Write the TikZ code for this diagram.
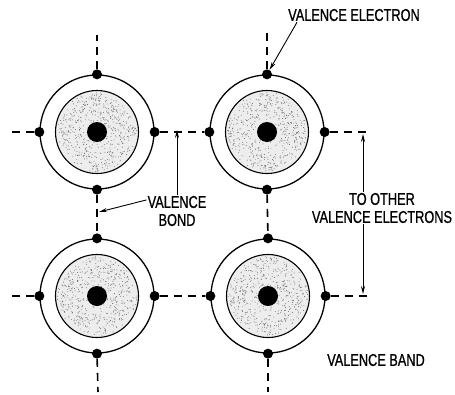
\documentclass[tikz,border=0pt]{standalone}
\usepackage{fontspec}
\setmainfont{Liberation Sans}[FakeStretch=0.75, FakeBold=0.9]
\usepackage{tikz}
\usetikzlibrary{arrows.meta, positioning, calc}

\begin{document}
\begin{tikzpicture}[
    x=1pt, y=-1pt,
    orbit/.style={circle, draw, line width=1.3pt, minimum size=114pt, inner sep=0pt},
    core/.style={circle, draw, line width=1.1pt, fill=black!7, minimum size=83pt, inner sep=0pt},
    nucleus/.style={circle, fill=black, minimum size=20pt, inner sep=0pt},
    electron/.style={circle, fill=black, minimum size=10pt, inner sep=0pt},
    bond/.style={line width=1.6pt, dash pattern=on 8pt off 6pt},
    ptr/.style={line width=0.9pt, -{Stealth[length=8pt, width=4pt]}},
    lbl/.style={font=\fontsize{17}{18}\selectfont, align=center, inner sep=1pt},
]
    \useasboundingbox (0,0) rectangle (455,394);
    \pgfmathsetseed{4711}

    % four atoms of the lattice
    \foreach \name/\x/\y in {a/97/132, b/267/132, c/97/296, d/268/296} {
        \node[core] (\name) at (\x,\y) {};
        % stippled core
        \foreach \i in {1,...,550}
            \fill[black!60] ([shift={(\x,\y)}] {360*rnd}:{40*sqrt(rnd)}) circle (0.45pt);
        \node[orbit] (\name o) at (\x,\y) {};
        \node[nucleus] at (\x,\y) {};
        \node[electron] (\name n) at (\name o.north) {};
        \node[electron] (\name s) at (\name o.south) {};
        \node[electron] (\name e) at (\name o.east) {};
        \node[electron] (\name w) at (\name o.west) {};
    }

    % free ends of the outer bonds
    \coordinate (an0) at (97,35);
    \coordinate (aw0) at (12,132);
    \coordinate (bn0) at (267,31);
    \coordinate (be0) at (370,132);
    \coordinate (cw0) at (9,296);
    \coordinate (cs0) at (98,392);
    \coordinate (de0) at (369,296);
    \coordinate (ds0) at (268,392);

    % valence bonds
    \draw[bond] (ae) -- (bw);
    \draw[bond] (ce) -- (dw);
    \draw[bond] (as) -- (cn);
    \draw[bond] (bs) -- (dn);
    \draw[bond] (an) -- (an0);
    \draw[bond] (aw) -- (aw0);
    \draw[bond] (bn) -- (bn0);
    \draw[bond] (be) -- (be0);
    \draw[bond] (cw) -- (cw0);
    \draw[bond] (cs) -- (cs0);
    \draw[bond] (de) -- (de0);
    \draw[bond] (ds) -- (ds0);

    % labels
    \node[lbl] (velab) at (354,15) {VALENCE ELECTRON};
    \node[lbl] (bondlab) at (177,211) {VALENCE\\BOND};
    \node[lbl] (otherlab) at (382,208) {TO OTHER\\VALENCE ELECTRONS};
    \node[lbl] (bandlab) at (376,360) {VALENCE BAND};

    \coordinate (bondpt) at (99,212);
    \coordinate (toup) at (363,134);
    \coordinate (todn) at (363,294);

    \draw[ptr] ([xshift=10pt]velab.south west) -- (bn);
    \draw[ptr] (bondlab.north) -- ([yshift=2pt]bondlab.north |- ae);
    \draw[ptr] (bondlab.160) -- (bondpt);
    \draw[ptr] (toup |- otherlab.north) -- (toup);
    \draw[ptr] (todn |- otherlab.south) -- (todn);
\end{tikzpicture}
\end{document}
